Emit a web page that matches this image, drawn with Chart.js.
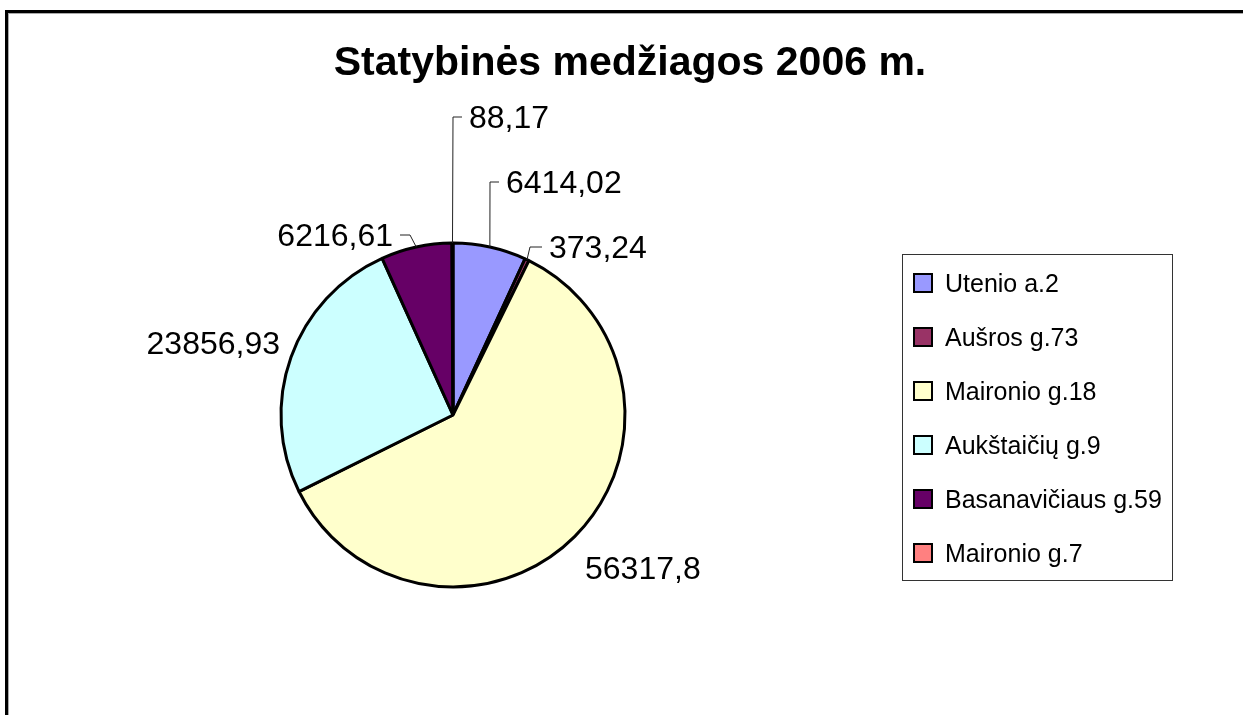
<!DOCTYPE html>
<html>
<head>
<meta charset="utf-8">
<title>Statybinės medžiagos 2006 m.</title>
<script src="https://cdn.jsdelivr.net/npm/chart.js@4.4.1/dist/chart.umd.min.js"></script>
<style>
  html, body { margin: 0; padding: 0; background: #fff; overflow: hidden; }
  #pie { display: block; }
</style>
</head>
<body>
<canvas id="pie" width="1243" height="715"></canvas>
<script>
// ─── DATA ─────────────────────────────────────────────
const chartTitle = 'Statybinės medžiagos 2006 m.';
const categories = ['Utenio a.2', 'Aušros g.73', 'Maironio g.18', 'Aukštaičių g.9', 'Basanavičiaus g.59', 'Maironio g.7'];
const values     = [6414.02, 373.24, 56317.8, 23856.93, 6216.61, 88.17];
const colors     = ['#9999FF', '#993366', '#FFFFCC', '#CCFFFF', '#660066', '#FF8080'];

// skaičiai su kableliu, kaip Excel'yje
const valueLabels = values.map(v => String(v).replace('.', ','));

// where each value label sits, relative to the pie centre
// side: 1 = text to the right, -1 = to the left; elbow: 0 = no leader line
const labelLayout = [
  { dx:   46, dy: -233, side:  1, elbow: 9 },
  { dx:   89, dy: -168, side:  1, elbow: 12 },
  { dx:  132, dy:  153, side:  1, elbow: 0 },
  { dx: -173, dy:  -72, side: -1, elbow: 0 },
  { dx:  -53, dy: -180, side: -1, elbow: 10 },
  { dx:    9, dy: -298, side:  1, elbow: 9 }
];

const FONT = '"Liberation Sans", Arial, sans-serif';

// ─── FRAME, TITLE, LABELS, LEGEND ─────────────────────
const excelLook = {
  id: 'excelLook',
  beforeDraw(chart) {
    const ctx = chart.ctx;
    ctx.save();
    ctx.fillStyle = '#fff';
    ctx.fillRect(0, 0, chart.width, chart.height);
    // chart border (only top and left are inside the window)
    ctx.fillStyle = '#000';
    ctx.fillRect(5, 10, chart.width, 3);
    ctx.fillRect(5, 10, 3, chart.height);
    ctx.fillStyle = '#aaa';
    ctx.fillRect(8, 13, chart.width, 1);
    ctx.fillRect(8, 13, 1, chart.height);
    ctx.restore();
  },
  afterDatasetsDraw(chart) {
    const ctx  = chart.ctx;
    const arcs = chart.getDatasetMeta(0).data;
    ctx.save();

    // title
    ctx.fillStyle = '#000';
    ctx.font = 'bold 41px ' + FONT;
    ctx.textAlign = 'center';
    ctx.textBaseline = 'alphabetic';
    ctx.fillText(chartTitle, 630, 75);

    // value labels with leader lines
    ctx.font = '32px ' + FONT;
    arcs.forEach((arc, i) => {
      const lay = labelLayout[i];
      const mid = (arc.startAngle + arc.endAngle) / 2;
      const px  = arc.x + Math.cos(mid) * arc.outerRadius;
      const py  = arc.y + Math.sin(mid) * arc.outerRadius;
      const hx  = arc.x + lay.dx;
      const hy  = arc.y + lay.dy;
      let tx = hx;
      if (lay.elbow > 0) {
        ctx.strokeStyle = '#222';
        ctx.lineWidth = 1;
        ctx.beginPath();
        ctx.moveTo(px, py);
        ctx.lineTo(hx - lay.side * lay.elbow, hy);
        ctx.lineTo(hx, hy);
        ctx.stroke();
        tx = hx + lay.side * 7;
      }
      ctx.textAlign = lay.side > 0 ? 'left' : 'right';
      ctx.fillText(valueLabels[i], tx, hy + 11);
    });

    // legend box
    const lx = 902, ly = 254, lw = 270, lh = 326;
    ctx.strokeStyle = '#333';
    ctx.lineWidth = 1;
    ctx.strokeRect(lx + 0.5, ly + 0.5, lw, lh);
    ctx.font = '25px ' + FONT;
    ctx.textAlign = 'left';
    categories.forEach((name, i) => {
      const cy = 283 + i * 54;
      ctx.fillStyle = colors[i];
      ctx.fillRect(914, cy - 9, 18, 18);
      ctx.strokeStyle = '#000';
      ctx.lineWidth = 2;
      ctx.strokeRect(914, cy - 9, 18, 18);
      ctx.fillStyle = '#000';
      ctx.fillText(name, 945, cy + 9);
    });

    ctx.restore();
  }
};

// ─── PIE ──────────────────────────────────────────────
new Chart(document.getElementById('pie'), {
  type: 'pie',
  data: {
    labels: categories,
    datasets: [{
      data: values,
      backgroundColor: colors,
      borderColor: '#000',
      borderWidth: 3,
      radius: 172
    }]
  },
  options: {
    responsive: false,
    animation: false,
    events: [],
    // centre of the pie lands at (453, 415)
    layout: { padding: { left: 0, right: 337, top: 115, bottom: 0 } },
    plugins: {
      legend: { display: false },
      title: { display: false },
      tooltip: { enabled: false }
    }
  },
  plugins: [excelLook]
});
</script>
</body>
</html>
